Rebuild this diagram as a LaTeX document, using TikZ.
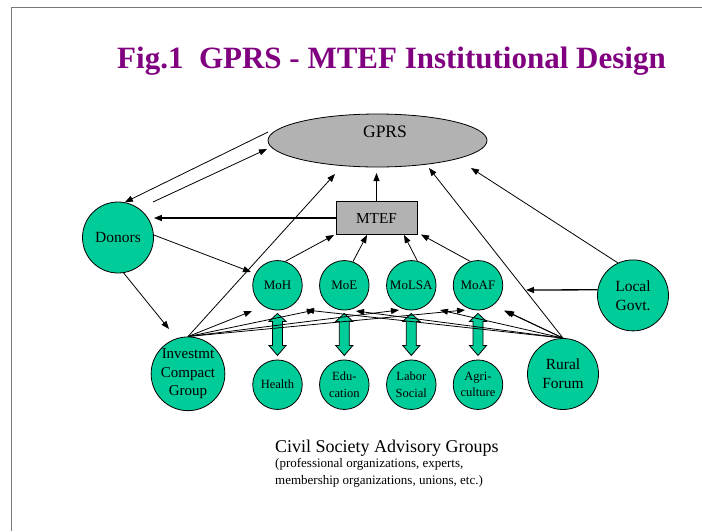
\documentclass[tikz,border=0pt]{standalone}
\usepackage{fontspec}
\setmainfont{Liberation Serif}
\usetikzlibrary{arrows.meta,shapes.geometric,calc}
\definecolor{sea}{RGB}{0,204,153}
\definecolor{greybox}{RGB}{178,178,178}
\definecolor{ttl}{RGB}{128,0,128}
\definecolor{framec}{RGB}{120,120,120}
\tikzset{
  conn/.style={-{Triangle[length=8pt,width=6pt]}, line width=0.8pt},
  connb/.style={conn, line width=1.3pt},
  org/.style={circle, draw, line width=0.8pt, fill=sea, inner sep=0pt, minimum size=71pt, align=center, font=\fontsize{15.5}{19}\selectfont},
  mini/.style={circle, draw, line width=0.8pt, fill=sea, inner sep=0pt, minimum size=49.5pt, align=center, font=\fontsize{13}{16}\selectfont},
  sect/.style={mini, font=\fontsize{12.5}{16.4}\selectfont},
  dbl/.style={draw, fill=sea, line width=0.8pt},
  txt/.style={anchor=base west, inner sep=0pt}
}
\begin{document}
\begin{tikzpicture}[x=1pt,y=-1pt]
\useasboundingbox (0,0) rectangle (702,531);
\fill[white] (0,0) rectangle (702,531);
% frame
\draw[framec, line width=1.6pt] (11.5,531) -- (11.5,7.5) -- (702,7.5);
% title
\node[txt, text=ttl, font=\fontsize{31}{37}\selectfont\bfseries] (title) at (117,68) {Fig.1\hspace{0.5em}GPRS - MTEF Institutional Design};
% main nodes
\node[ellipse, draw, line width=0.8pt, fill=greybox, minimum width=219pt, minimum height=53pt, inner sep=0pt,
      label={[xshift=7.5pt,yshift=8.5pt,font=\fontsize{17.5}{21}\selectfont]center:GPRS}] (gprs) at (377.5,140.5) {};
\node[rectangle, draw, line width=0.8pt, fill=greybox, minimum width=81pt, minimum height=32.5pt, inner sep=0pt, font=\fontsize{15.3}{18}\selectfont] (mtef) at (376.5,218) {MTEF};
\node[org] (donors) at (118,237.5) {Donors};
\node[org] (lg) at (633,295.4) {Local\\Govt.};
\node[org, font=\fontsize{15}{18.7}\selectfont] (ic) at (188,373.8) {Investmt\\Compact\\Group};
\node[org] (rf) at (563,374) {Rural\\Forum};
\node[mini] (moh) at (277.5,285.3) {MoH};
\node[mini] (moe) at (344.3,285.3) {MoE};
\node[mini] (molsa) at (411.3,285.3) {MoLSA};
\node[mini] (moaf) at (478,285.3) {MoAF};
\node[sect] (health) at (277.5,384.7) {Health};
\node[sect] (edu) at (344.3,384.7) {Edu-\\cation};
\node[sect] (labor) at (411.3,384.7) {Labor\\Social};
\node[sect] (agri) at (478,384.7) {Agri-\\culture};
% caption
\node[txt, font=\fontsize{18}{21}\selectfont] (civ) at (275,452) {Civil Society Advisory Groups};
\node[txt, font=\fontsize{13}{16}\selectfont] (civ2) at (275,467.5) {(professional organizations, experts,};
\node[txt, font=\fontsize{13}{16}\selectfont] (civ3) at (275,484.5) {membership organizations, unions, etc.)};
% double block arrows ministry <-> sector (under the connectors)
\foreach \m/\s in {moh/health, moe/edu, molsa/labor, moaf/agri} {
  \draw[dbl] ($(\m.south)+(0,3)$) -- ++(8.6,8) -- ++(-3.6,0) -- ++(0,24) -- ++(3.6,0)
     -- ++(-8.6,10) -- ++(-8.6,-10) -- ++(3.6,0) -- ++(0,-24) -- ++(-3.6,0) -- cycle;
}
% free ends
\coordinate (gd) at (268,132);
\coordinate (dg1) at (153,202);
\coordinate (dg2) at (267,149);
\coordinate (mg) at (376.5,173);
\coordinate (dm) at (251,272);
\coordinate (di) at (169,329);
\coordinate (ig) at (335,174);
\coordinate (t1) at (334,235);
\coordinate (t2) at (367,235);
\coordinate (t3) at (404,235);
\coordinate (t4) at (421,234.5);
\coordinate (lgt) at (471,168);
\coordinate (lm) at (526,290);
\coordinate (rgt) at (429,168);
\coordinate (r0) at (504,310.5);
\coordinate (f1) at (252,311);
\coordinate (f2) at (315,310);
\coordinate (f3) at (399,310);
\coordinate (f4) at (465,310);
\coordinate (f5) at (306,310);
\coordinate (f6) at (356,311);
\coordinate (f7) at (440,310);
\coordinate (f8) at (506,311);
% connectors
\draw[conn] (gd) -- (donors.79);
\draw[conn] (dg1) -- (dg2);
\draw[connb] (mtef.west) -- (mtef.west -| donors.east);
\draw[conn] (mtef.north) -- (mg);
\draw[conn] (donors.4) -- (dm);
\draw[conn] (donors.-81) -- (di);
\draw[conn] (ic.north) -- (ig);
\draw[conn] (moh.72) -- (t1);
\draw[conn] (moe.70) -- (t2);
\draw[conn] (molsa.76) -- (t3);
\draw[conn] (moaf.108) -- (t4);
\draw[conn] (lg.115) -- (lgt);
\draw[connb] (lg.171) -- (lm);
\draw[conn] (rf.north) -- (rgt);
\draw[conn] (rf.north) -- (r0);
\foreach \f in {f1,f2,f3,f4} \draw[conn] (ic.north) -- (\f);
\foreach \f in {f5,f6,f7,f8} \draw[conn] (rf.north) -- (\f);
\end{tikzpicture}
\end{document}
